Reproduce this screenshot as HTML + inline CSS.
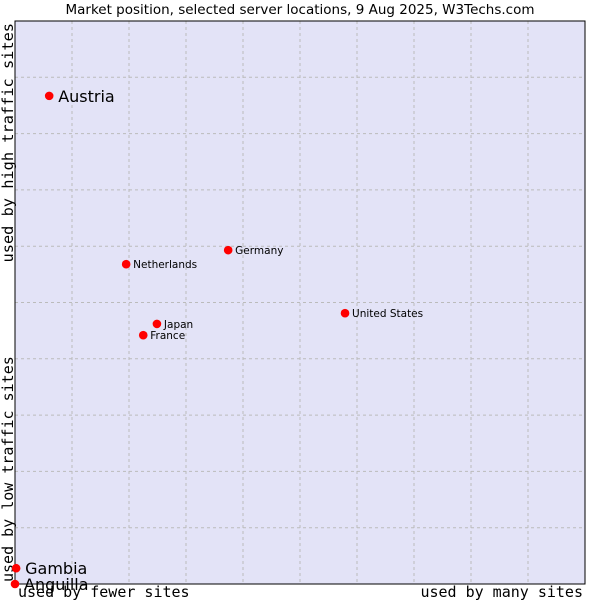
<!DOCTYPE html>
<html><head><meta charset="utf-8"><style>
body{margin:0;background:#fff;width:600px;height:600px;overflow:hidden}
svg{display:block}
</style></head><body>
<svg id="chart" width="600" height="600" xmlns="http://www.w3.org/2000/svg">
<text x="300" y="14" text-anchor="middle" font-family="DejaVu Sans, sans-serif" font-size="13.5" fill="#000">Market position, selected server locations, 9 Aug 2025, W3Techs.com</text>
<rect x="15" y="21" width="570" height="563" fill="#e3e3f7"/>
<g id="grid"></g>
<rect x="15" y="21" width="570" height="563" fill="none" stroke="#000" stroke-width="1"/>
<text x="18" y="597" font-family="DejaVu Sans Mono, monospace" font-size="15" fill="#000">used by fewer sites</text>
<text x="583" y="597" text-anchor="end" font-family="DejaVu Sans Mono, monospace" font-size="15" fill="#000">used by many sites</text>
<text transform="translate(13,582) rotate(-90)" font-family="DejaVu Sans Mono, monospace" font-size="15" fill="#000">used by low traffic sites</text>
<text transform="translate(13,23) rotate(-90)" text-anchor="end" font-family="DejaVu Sans Mono, monospace" font-size="15.3" fill="#000">used by high traffic sites</text>
<g id="points"></g>
</svg>
<script>
const names=["Austria","Netherlands","Germany","United States","Japan","France","Gambia","Anguilla"];
const xVals=[6,19.5,37.4,57.9,24.9,22.5,0.2,0];
const yVals=[86.7,56.8,59.3,48.1,46.2,44.2,2.8,0];
const bigLabel=[1,0,0,0,0,0,1,1];
const NS="http://www.w3.org/2000/svg";
const X0=15,W=570,Y0=584,H=563;
function sx(v){return X0+v/100*W;}
function sy(v){return Y0-v/100*H;}
const grid=document.getElementById('grid');
for(let i=1;i<10;i++){
  const lx=document.createElementNS(NS,'line');
  lx.setAttribute('x1',sx(i*10));lx.setAttribute('x2',sx(i*10));lx.setAttribute('y1',21);lx.setAttribute('y2',584);
  lx.setAttribute('stroke','#bbb');lx.setAttribute('stroke-dasharray','3,3');
  
  
  grid.appendChild(lx);
  const ly=document.createElementNS(NS,'line');
  ly.setAttribute('y1',sy(i*10));ly.setAttribute('y2',sy(i*10));ly.setAttribute('x1',15);ly.setAttribute('x2',585);
  ly.setAttribute('stroke','#bbb');ly.setAttribute('stroke-dasharray','3,3');
  
  
  grid.appendChild(ly);
}
const pts=document.getElementById('points');
names.forEach((n,i)=>{
  const cx=sx(xVals[i]),cy=sy(yVals[i]);
  const d=document.createElementNS(NS,'circle');
  d.setAttribute('cx',cx);d.setAttribute('cy',cy);d.setAttribute('r',4.3);
  d.setAttribute('fill','#f00');
  
  
  pts.appendChild(d);
  const t=document.createElementNS(NS,'text');
  const big=bigLabel[i];
  t.setAttribute('x',cx+(big?9:7));
  t.setAttribute('y',cy+(big?6:4));
  t.setAttribute('font-family','DejaVu Sans, sans-serif');
  t.setAttribute('font-size',big?16:10.5);
  t.setAttribute('fill','#000');
  t.textContent=n;
  
  
  pts.appendChild(t);
});
</script>
</body></html>
